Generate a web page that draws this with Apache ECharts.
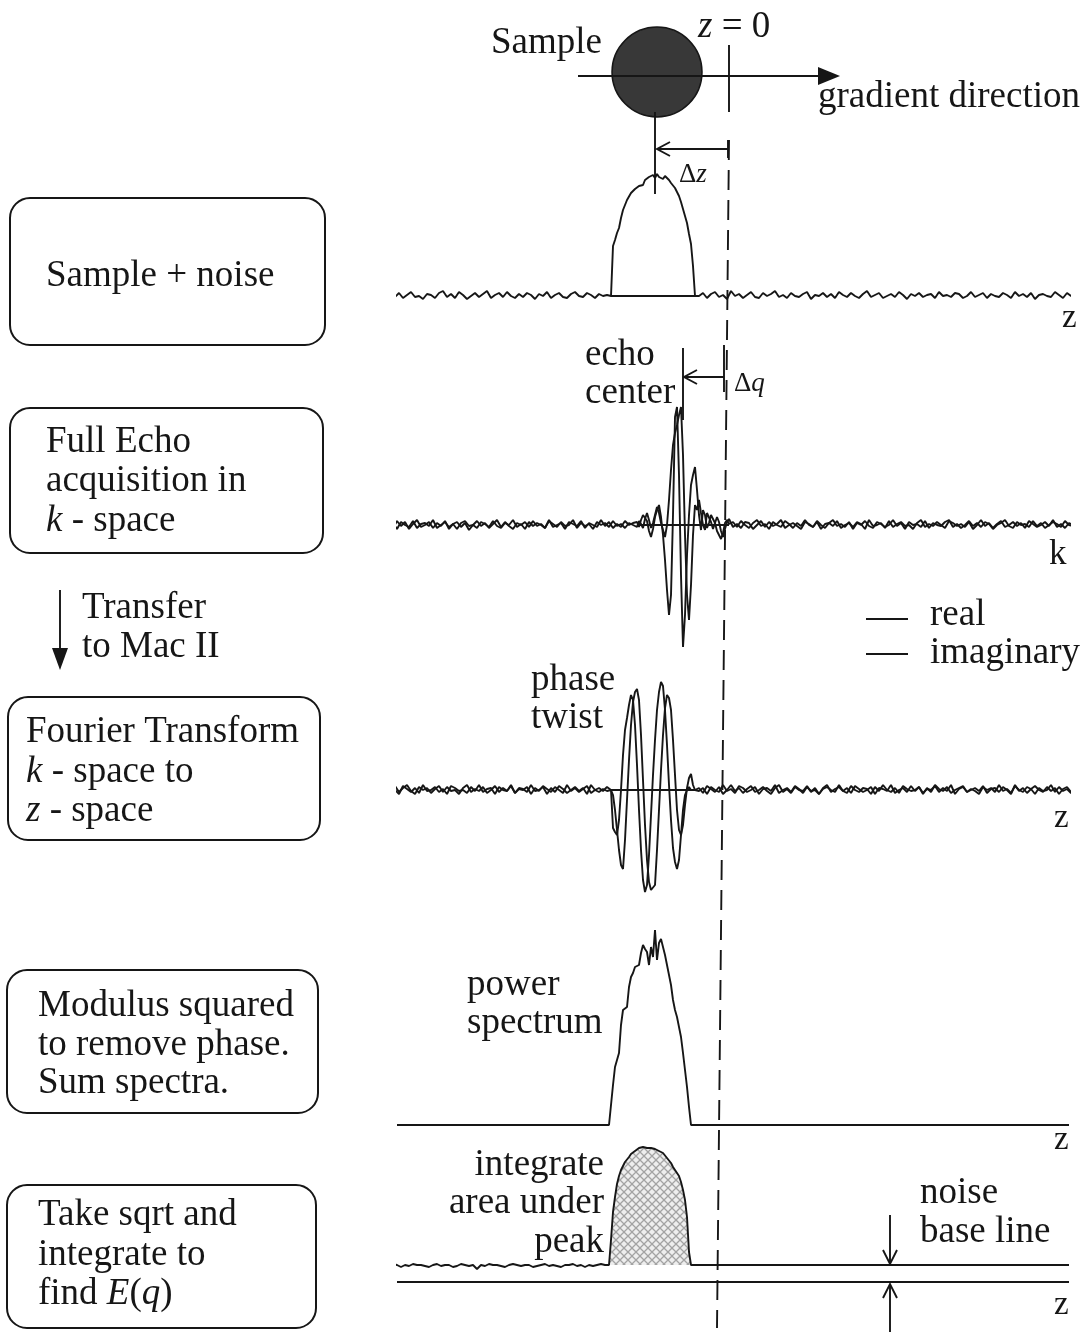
<!DOCTYPE html>
<html><head><meta charset="utf-8">
<script src="https://cdn.jsdelivr.net/npm/echarts/dist/echarts.min.js"></script>
<style>html,body{margin:0;padding:0;background:#fff}#c{width:1086px;height:1334px}</style>
</head><body><div id="c"></div>
<script>
// ---------- DATA (z in arbitrary position units, amplitudes in arbitrary signal units) ----------
const Z_MIN = -82, Z_MAX = 86;
const NOISE_STEP = 1, PEAK_STEP = 0.5;

// Trace 1: sample + noise
const sampleStartZ = -28.5;
const sampleNoiseLeft = [2,-1,3,-2,1,4,-1,0,-3,2,1,-2,3,5,-1,2,-2,4,1,-3,0,3,-1,2,5,-2,1,3,-1,4,0,-2,2,-1,3,1,-3,2,0,4,-2,1,3,-1,-2,2,4,0,-1,3,1,-2,2,0,1];
const samplePeak = [0,50,56,63,68,78,86,91,96,97,103,104,107,106,110,112,111,116,115,119,117,121,118,122,119,121,117,120,118,116,113,111,108,104,100,94,87,80,73,62,52,30,0];
const sampleNoiseRight = [0,3,-2,2,4,-1,1,-3,5,0,2,-2,1,4,-1,-2,3,0,2,5,-1,1,-2,3,0,-1,2,4,-3,1,0,3,-1,2,-2,4,1,-1,3,0,-2,2,5,-1,1,3,-2,0,2,-1,4,1,-3,2,0,3,-1,1,2,-2,4,0,1,-1,3,2,-2,0,4,-1,1,3,-2,2,0,-1,3,1,-2,4,0,2,-1,3,-3,1,2,0,-1,4,1,-2,3,0,2];

// Trace 2: full echo in k-space (real / imaginary)
const echoStartZ = -22;
const echoRealLeft = [2,-3,4,-1,3,-4,1,5,-2,0,3,-3,2,-1,4,-4,1,3,-2,2,-5,0,4,-1,2,-3,1,5,-2,3,-1,-4,2,0,3,-2,4,-1,1,-3,5,-2,0,2,-4,3,1,-1,4,-3,2,0,-2,5,-1,3,-3,1,-2,4,0,2];
const echoImagLeft = [-1,2,-4,3,0,-2,4,-3,1,2,-1,5,-3,0,3,-2,1,-4,2,4,-1,0,-3,3,1,-2,4,-1,-3,2,0,5,-2,1,-4,3,-1,2,0,-3,4,1,-2,3,-1,0,5,-3,2,-1,1,-4,3,0,2,-2,4,-1,1,-3,2,0];
const echoRealPeak = [3,-2,5,10,12,4,-6,-12,-4,8,15,20,8,-10,-35,-65,-90,-70,10,108,118,50,-50,-122,-90,-30,10,40,50,58,35,10,-5,15,10,-3,2,10,12,2,-6,-10,-14,-8,2,5,1];
const echoImagPeak = [-2,4,1,-3,6,12,5,-3,2,10,18,12,2,-5,-12,0,25,55,80,92,100,110,118,70,-10,-70,-95,-60,-10,20,15,25,12,0,-5,12,14,3,-4,-2,8,3,-6,-12,-4,3,6];
const echoRealRight = [3,-2,4,0,-3,2,5,-1,1,-4,3,0,-2,4,1,-3,2,-1,5,0,-2,3,-4,1,2,-1,4,-3,0,2,-2,3,1,-4,5,-1,0,2,-3,4,-2,1,3,-1,0,-4,2,5,-2,1,-1,3,0,-3,4,2,-1,1,-2,3,-4,0,5,-1,2,-3,1,4,-2,0,3,-1,2,-3,4,1,-2,0,3,-1,5,-2,1,-3,2,0,4,-1];
const echoImagRight = [-2,1,-3,3,2,-4,0,4,-2,3,-1,1,5,-3,0,2,-1,-4,3,1,-2,4,0,-3,2,5,-1,1,-2,3,-4,2,0,4,-1,-3,3,1,-2,0,5,-1,2,-4,3,0,1,-2,4,-3,2,0,-1,3,5,-2,1,-3,0,4,-1,2,-2,3,1,-4,0,2,5,-1,-3,3,0,1,-2,4,-1,2,-3,0,3,1,-2,4,0,-1];

// Trace 3: Fourier transform (phase twist), real / imaginary
const twistStartZ = -28.5;
const twistRealLeft = [1,-3,4,-2,2,5,-1,-4,3,0,2,-3,1,4,-2,3,-1,0,-4,2,5,-2,1,-1,3,-3,0,4,-2,2,-1,5,-3,1,0,3,-4,2,-1,4,1,-2,3,0,-3,5,-1,2,-2,1,4,-3,0,2,-1,3];
const twistImagLeft = [-2,3,0,-4,4,1,-2,2,-3,5,-1,0,3,-2,1,-4,4,2,-1,0,-3,3,-1,5,-2,1,2,-4,3,0,-1,4,-3,2,1,-2,5,-1,0,3,-4,2,-2,4,1,-3,0,3,-1,2,-4,5,0,-2,1,-1];
const twistRealPeak = [0,-38,-42,-45,-30,0,35,60,72,85,95,90,65,25,-20,-60,-90,-102,-95,-65,-25,15,50,80,98,108,104,80,45,5,-30,-58,-72,-79,-70,-45,-20,-5,0,3,0,-2,0];
const twistImagPeak = [0,-5,-20,-40,-60,-75,-79,-50,-10,30,65,88,98,101,90,55,10,-35,-70,-92,-100,-102,-95,-60,-20,20,55,82,95,92,80,50,15,-20,-40,-45,-35,-15,2,12,16,5,0];
const twistRealRight = [2,-3,4,1,-2,3,-4,0,5,-1,2,-3,1,4,-2,0,3,-1,-4,2,5,-2,1,-3,3,0,-1,4,-2,2,-4,1,3,0,-2,5,-1,2,-3,4,1,-2,0,3,-4,2,1,-1,5,-3,0,2,-2,4,-1,3,-3,1,0,4,-2,2,-1,5,-4,1,3,-2,0,2,-1,4,-3,1,2,-2,3,0,-4,5,-1,2,-3,1,4,0,-2,3,-1,2,-4,1,3,-2,0,4,-1];
const twistImagRight = [-1,2,-4,3,0,-2,5,-1,1,-3,4,2,-2,0,3,-4,1,2,-1,5,-3,0,2,-2,4,1,-3,3,-1,0,-4,2,5,-2,1,3,-1,-3,4,0,-2,2,1,-4,3,-1,5,0,-2,2,-3,4,1,-1,0,3,-4,2,-2,5,1,-1,3,-3,0,2,4,-2,1,-1,-4,3,0,2,-2,5,-1,1,-3,4,0,-2,3,1,-4,2,-1,0,5,-2,3,-1,1,-3,2];

// Trace 4: power spectrum (summed modulus squared)
const powerStartZ = -29;
const powerPeak = [0,20,40,58,65,72,100,115,116,118,138,148,152,158,156,160,172,180,176,173,160,178,168,195,165,182,186,178,170,160,150,140,125,115,108,98,88,72,55,38,18,0];

// Trace 5: sqrt + integrate; noise base line level
const integStartZ = -29;
const noiseBaseLevel = 17;
const integNoiseLeft = [17,16,18,17,15,17,16,18,17,17,16,15,17,18,16,17,17,15,16,18,17,16,17,13,17,16,18,17,17,16,15,17,18,17,16,17,17,15,16,17,18,16,17,16,15,17,17,18,16,17,15,17,16,17,18,17];
const integPeak = [17,42,70,85,98,106,112,116,120,122,125,128,130,131,132,134,134,135,135,134,135,134,134,133,132,131,130,129,127,124,122,119,115,112,110,106,100,92,82,65,30,17];

// ---------- BUILD ----------
function seg(values, startZ, step) { return values.map((v, i) => [startZ + i * step, v]); }
function peakEnd(peak, startZ) { return startZ + (peak.length - 1) * PEAK_STEP; }
function trace(left, peak, right, startZ) {
  const pts = [];
  left.forEach((v, i) => pts.push([startZ - (left.length - i) * NOISE_STEP, v]));
  seg(peak, startZ, PEAK_STEP).forEach(p => pts.push(p));
  const e = peakEnd(peak, startZ);
  right.forEach((v, i) => pts.push([e + (i + 1) * NOISE_STEP, v]));
  return pts;
}

const INK = '#161616';
const FF = '"Liberation Serif","Times New Roman",serif';
const FS = 37;
const LW = 1.9;

const grids = [
  {left: 397, top: 166, width: 672, height: 150},
  {left: 397, top: 395, width: 672, height: 260},
  {left: 397, top: 680, width: 672, height: 220},
  {left: 397, top: 925, width: 672, height: 210},
  {left: 397, top: 1142, width: 672, height: 150}
];
const yRanges = [[-20,130],[-130,130],[-110,110],[-10,200],[-10,140]];

const pat = document.createElement('canvas'); pat.width = 8; pat.height = 8;
const pg = pat.getContext('2d');
pg.fillStyle = '#eeeeee'; pg.fillRect(0,0,8,8);
pg.strokeStyle = '#a3a3a3'; pg.lineWidth = 1.3;
pg.beginPath(); pg.moveTo(0,0); pg.lineTo(8,8); pg.moveTo(8,0); pg.lineTo(0,8); pg.stroke();

function ln(idx, data, extra) {
  return Object.assign({type:'line', xAxisIndex: idx, yAxisIndex: idx, data, showSymbol:false, symbol:'none',
    lineStyle:{color: INK, width: LW}, animation:false, silent:true, z: 3}, extra || {});
}

const series = [
  ln(0, trace(sampleNoiseLeft, samplePeak, sampleNoiseRight, sampleStartZ)),
  ln(0, [[sampleStartZ, 0], [peakEnd(samplePeak, sampleStartZ), 0]]),
  ln(1, trace(echoRealLeft, echoRealPeak, echoRealRight, echoStartZ)),
  ln(1, trace(echoImagLeft, echoImagPeak, echoImagRight, echoStartZ)),
  ln(1, [[echoStartZ, 0], [peakEnd(echoRealPeak, echoStartZ), 0]]),
  ln(2, trace(twistRealLeft, twistRealPeak, twistRealRight, twistStartZ)),
  ln(2, trace(twistImagLeft, twistImagPeak, twistImagRight, twistStartZ)),
  ln(2, [[twistStartZ, 0], [peakEnd(twistRealPeak, twistStartZ) + 0.5, 0]]),
  ln(3, [[Z_MIN, 0]].concat(seg(powerPeak, powerStartZ, PEAK_STEP), [[Z_MAX, 0]])),
  ln(4, seg(integPeak, integStartZ, PEAK_STEP), {lineStyle:{width:0, opacity:0}, areaStyle:{color:{image: pat, repeat:'repeat'}, opacity:1}, z:1}),
  ln(4, [[integStartZ, noiseBaseLevel], [peakEnd(integPeak, integStartZ), noiseBaseLevel]], {lineStyle:{width:0, opacity:0}, areaStyle:{color:'#ffffff', opacity:1}, z:2}),
  ln(4, trace(integNoiseLeft, integPeak, [], integStartZ).concat([[Z_MAX, noiseBaseLevel]])),
  ln(4, [[Z_MIN, 0], [Z_MAX, 0]])
];

// ---------- ANNOTATIONS ----------
function T(x, y, text, o) {
  o = o || {};
  const fs = o.fontSize || FS;
  return {type:'text', z:50, silent:true, style: Object.assign({
    x, y, text, fill: INK, fontSize: fs, fontFamily: FF,
    align: o.align || 'left', textAlign: o.align || 'left', verticalAlign: 'middle', textVerticalAlign: 'middle',
    rich: {i: {fontStyle:'italic', fontSize: fs, fontFamily: FF, fill: INK}}
  }, o.style || {})};
}
function L(x1, y1, x2, y2, st) {
  return {type:'line', z:50, silent:true, shape:{x1,y1,x2,y2}, style: Object.assign({stroke: INK, lineWidth: LW}, st || {})};
}
function PL(points, st) {
  return {type:'polyline', z:50, silent:true, shape:{points}, style: Object.assign({stroke: INK, lineWidth: LW, fill: 'none'}, st || {})};
}
function PG(points) {
  return {type:'polygon', z:50, silent:true, shape:{points}, style:{fill: INK}};
}
function R(x, y, w, h) {
  return {type:'rect', z:50, silent:true, shape:{x, y, width:w, height:h, r:20}, style:{fill:'none', stroke: INK, lineWidth: 2}};
}

const graphic = [
  // left boxes
  R(10, 198, 315, 147), T(46, 276, 'Sample + noise'),
  R(10, 408, 313, 145), T(46, 442, 'Full Echo'), T(46, 481, 'acquisition in'), T(46, 521, '{i|k} - space'),
  L(60, 590, 60, 652), PG([[52,648],[68,648],[60,670]]),
  T(82, 608, 'Transfer'), T(82, 647, 'to Mac II'),
  R(8, 697, 312, 143), T(26, 732, 'Fourier Transform'), T(26, 772, '{i|k} - space to'), T(26, 811, '{i|z} - space'),
  R(7, 970, 311, 143), T(38, 1006, 'Modulus squared'), T(38, 1045, 'to remove phase.'), T(38, 1083, 'Sum spectra.'),
  R(7, 1185, 309, 143), T(38, 1215, 'Take sqrt and'), T(38, 1255, 'integrate to'), T(38, 1294, 'find {i|E}({i|q})'),

  // sample & gradient
  {type:'circle', z:40, silent:true, shape:{cx:657, cy:72, r:45}, style:{fill:'#383838', stroke: INK, lineWidth:1.5}},
  L(578, 76, 825, 76, {lineWidth: 2.2}), PG([[818,67],[840,76],[818,85]]),
  T(491, 43, 'Sample'),
  T(698, 27, '{i|z} = 0'),
  T(818, 97, 'gradient direction'),
  L(729, 45, 729, 112),
  L(655, 112, 655, 194),
  // dashed z = 0 reference
  L(729, 140, 717, 1328, {lineDash:[20, 10]}),
  L(728, 140, 728, 158),
  // delta z
  L(728, 149, 657, 149), PL([[670,142],[657,149],[670,156]]),
  T(679, 175, 'Δ{i|z}', {fontSize: 27}),
  T(1062, 318, 'z', {fontSize: 33}),
  // echo
  T(585, 355, 'echo'), T(585, 393, 'center'),
  L(683, 348, 683, 420),
  L(724, 345, 724, 392),
  L(724, 377, 684, 377), PL([[697,370],[684,377],[697,384]]),
  T(734, 384, 'Δ{i|q}', {fontSize: 27}),
  T(1049, 555, 'k', {fontSize: 35}),
  // legend
  L(866, 619, 908, 619), T(930, 615, 'real'),
  L(866, 654, 908, 654), T(930, 653, 'imaginary'),
  // phase twist
  T(531, 680, 'phase'), T(531, 718, 'twist'),
  T(1054, 818, 'z', {fontSize: 33}),
  // power spectrum
  T(467, 985, 'power'), T(467, 1023, 'spectrum'),
  T(1054, 1140, 'z', {fontSize: 33}),
  // integrate
  T(604, 1165, 'integrate', {align:'right'}), T(604, 1203, 'area under', {align:'right'}), T(604, 1242, 'peak', {align:'right'}),
  T(920, 1193, 'noise'), T(920, 1232, 'base line'),
  L(890, 1215, 890, 1262), PL([[883,1250],[890,1264],[897,1250]]),
  L(890, 1332, 890, 1286), PL([[883,1298],[890,1284],[897,1298]]),
  T(1054, 1305, 'z', {fontSize: 33})
];

const chart = echarts.init(document.getElementById('c'), null, {renderer:'canvas'});
chart.setOption({
  animation: false,
  backgroundColor: '#ffffff',
  grid: grids,
  xAxis: grids.map((g, i) => ({gridIndex: i, type:'value', min: Z_MIN, max: Z_MAX, show: false})),
  yAxis: grids.map((g, i) => ({gridIndex: i, type:'value', min: yRanges[i][0], max: yRanges[i][1], show: false})),
  series,
  graphic
});
</script></body></html>
